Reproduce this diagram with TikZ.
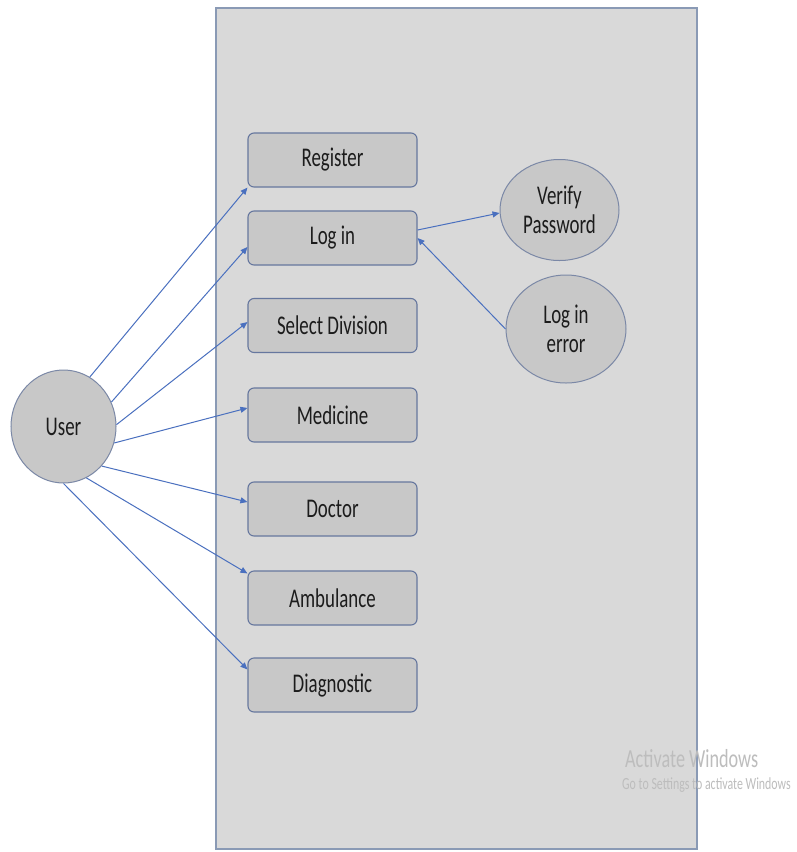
\documentclass[tikz,border=0pt]{standalone}
\usepackage{fontspec}
\setmainfont{Carlito}[FakeStretch=0.7]
\usetikzlibrary{shapes.geometric,arrows.meta,calc}
\definecolor{sysfill}{HTML}{D9D9D9}
\definecolor{sysdraw}{HTML}{8A9AB5}
\definecolor{boxfill}{HTML}{C8C8C8}
\definecolor{boxdraw}{HTML}{66779E}
\definecolor{elldraw}{HTML}{7B88A6}
\definecolor{arrcol}{HTML}{4A70BF}
\definecolor{txtcol}{HTML}{1C1C1C}
\definecolor{wmcol}{HTML}{BDBDBD}
\begin{document}
\begin{tikzpicture}[x=1pt,y=-1pt,
  ucbox/.style={draw=boxdraw,line width=1.1pt,fill=boxfill,rounded corners=6pt,
    minimum width=169pt,minimum height=54pt,inner sep=0pt,text=txtcol,
    font=\fontsize{27}{29}\selectfont},
  ucell/.style={ellipse,draw=elldraw,line width=1pt,fill=boxfill,inner sep=0pt,
    text=txtcol,align=center,font=\fontsize{27}{29}\selectfont},
  arr/.style={draw=arrcol,line width=1pt,-{Triangle[length=7pt,width=6pt]}},
  wm/.style={text=wmcol,anchor=base west,inner sep=0pt}]
\useasboundingbox (0,0) rectangle (796,852);
\fill[white] (0,0) rectangle (796,852);
\node[draw=sysdraw,line width=1.3pt,fill=sysfill,minimum width=481pt,minimum height=841pt,inner sep=0pt] (sys) at (456.5,428.5) {};
\node[ucbox] (reg) at (332.5,160) {Register};
\node[ucbox] (login) at (332.5,238) {Log in};
\node[ucbox] (sel) at (332.5,325.5) {Select Division};
\node[ucbox] (med) at (332.5,415) {Medicine};
\node[ucbox] (doc) at (332.5,509) {Doctor};
\node[ucbox] (amb) at (332.5,598) {Ambulance};
\node[ucbox] (diag) at (332.5,685) {Diagnostic};
\node[ucell,minimum width=119pt,minimum height=101pt] (verify) at (559.5,210) {Verify\\Password};
\node[ucell,minimum width=120pt,minimum height=108pt] (err) at (566,329) {Log in\\error};
\node[ucell,minimum width=105pt,minimum height=113pt] (user) at (63.5,426.5) {User};
\draw[arr] (user.62) -- (reg.south west);
\draw[arr] (user.27) -- ($(login.west)+(0,9)$);
\draw[arr] (user.2) -- ($(sel.west)+(0,-3.5)$);
\draw[arr] (user.-18) -- ($(med.west)+(0,-7)$);
\draw[arr] (user.-46) -- ($(doc.west)+(0,-7)$);
\draw[arr] (user.-66) -- ($(amb.north west)+(0,3)$);
\draw[arr] (user.-90) -- ($(diag.north west)+(0,12)$);
\draw[arr] ($(login.east)+(0,-8)$) -- ($(verify.west)+(0,3)$);
\draw[arr] (err.west) -- (login.east);
\node[wm,font=\fontsize{26}{28}\selectfont] (wm1) at (625,767) {Activate Windows};
\node[wm,font=\fontsize{17}{19}\selectfont] (wm2) at (622,789) {Go to Settings to activate Windows};
\end{tikzpicture}
\end{document}
